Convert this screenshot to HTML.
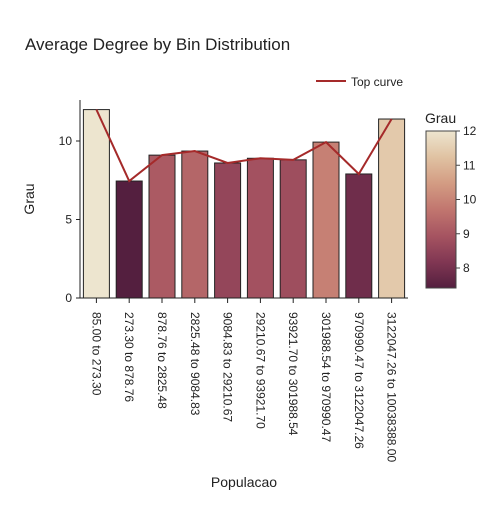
<!DOCTYPE html>
<html><head><meta charset="utf-8"><style>
body{margin:0;background:#fff;font-family:"Liberation Sans",Arial,sans-serif}
svg text{font-family:"Liberation Sans",Arial,sans-serif}
</style></head><body>
<svg id="c" width="500" height="500" xmlns="http://www.w3.org/2000/svg">
<defs><linearGradient id="cg" x1="0" y1="1" x2="0" y2="0">
<stop offset="0" stop-color="rgb(84,31,63)"/>
<stop offset="0.167" stop-color="rgb(129,55,83)"/>
<stop offset="0.333" stop-color="rgb(166,84,97)"/>
<stop offset="0.5" stop-color="rgb(193,118,111)"/>
<stop offset="0.667" stop-color="rgb(211,156,131)"/>
<stop offset="0.833" stop-color="rgb(224,194,162)"/>
<stop offset="1" stop-color="rgb(237,229,207)"/>
</linearGradient></defs>
<text x="25" y="50" font-size="17" fill="#222">Average Degree by Bin Distribution</text>
<g id="plot"></g>
<text x="0" y="0" transform="translate(34,199) rotate(-90)" text-anchor="middle" font-size="14" fill="#222">Grau</text>
<text x="244" y="487" text-anchor="middle" font-size="14" fill="#222">Populacao</text>
<g>
<line x1="316" y1="81" x2="346" y2="81" stroke="#a52a2a" stroke-width="2"/>
<text x="351" y="86" font-size="12" fill="#222">Top curve</text>
</g>
<text x="425" y="123" font-size="14" fill="#222">Grau</text>
<rect x="426" y="131" width="30" height="157" fill="url(#cg)" stroke="#444" stroke-width="1"/>
<g id="cb"></g>
</svg>
<script>
const categories=["85.00 to 273.30","273.30 to 878.76","878.76 to 2825.48","2825.48 to 9084.83","9084.83 to 29210.67","29210.67 to 93921.70","93921.70 to 301988.54","301988.54 to 970990.47","970990.47 to 3122047.26","3122047.26 to 10038388.00"];
const values=[12.0,7.45,9.1,9.36,8.6,8.9,8.8,9.93,7.9,11.4];
const yTicks=[0,5,10];
const cbTicks=[8,9,10,11,12];
const NS="http://www.w3.org/2000/svg";
const x0=80,x1=408,y0=298,ppu=15.7;
const bw=(x1-x0)/categories.length;
const X=i=>x0+bw*(i+0.5);
const Y=v=>y0-v*ppu;
const cmin=7.45,cmax=12;
const stops=[[84,31,63],[129,55,83],[166,84,97],[193,118,111],[211,156,131],[224,194,162],[237,229,207]];
function col(v){let t=(v-cmin)/(cmax-cmin);t=Math.max(0,Math.min(1,t))*6;let i=Math.min(5,Math.floor(t)),f=t-i;const a=stops[i],b=stops[i+1];return `rgb(${a.map((c,k)=>Math.round(c+(b[k]-c)*f)).join(',')})`;}
function mk(tag,at,parent){const e=document.createElementNS(NS,tag);for(const k in at)e.setAttribute(k,at[k]);parent.appendChild(e);return e;}
const g=document.getElementById('plot');
values.forEach((v,i)=>{
 const r=mk('rect',{x:X(i)-13,y:Y(v),width:26,height:v*ppu,fill:col(v),stroke:'#222','stroke-width':1},g);
 
 
});
let pts=values.map((v,i)=>X(i)+','+Y(v)).join(' ');
const pl=mk('polyline',{points:pts,fill:'none',stroke:'#a52a2a','stroke-width':2},g);


const ya=mk('line',{x1:x0,y1:100,x2:x0,y2:y0,stroke:'#222'},g);


const xa=mk('line',{x1:x0,y1:y0,x2:x1,y2:y0,stroke:'#222'},g);


yTicks.forEach(t=>{
 mk('line',{x1:x0-4,y1:Y(t),x2:x0,y2:Y(t),stroke:'#222'},g);
 const tx=mk('text',{x:x0-8,y:Y(t)+4,'text-anchor':'end','font-size':12,fill:'#222'},g);tx.textContent=t;
 
 
});
categories.forEach((c,i)=>{
 mk('line',{x1:X(i),y1:y0,x2:X(i),y2:y0+5,stroke:'#222'},g);
 const tx=mk('text',{transform:`translate(${X(i)-4},312) rotate(90)`,'font-size':12,fill:'#222'},g);tx.textContent=c;
 
 
});
const cb=document.getElementById('cb');
cbTicks.forEach(t=>{
 const y=131+(cmax-t)*34.25;
 mk('line',{x1:456,y1:y,x2:460,y2:y,stroke:'#444'},cb);
 const tx=mk('text',{x:463,y:y+4,'font-size':12,fill:'#222'},cb);tx.textContent=t;
 
 
});
</script>
</body></html>
